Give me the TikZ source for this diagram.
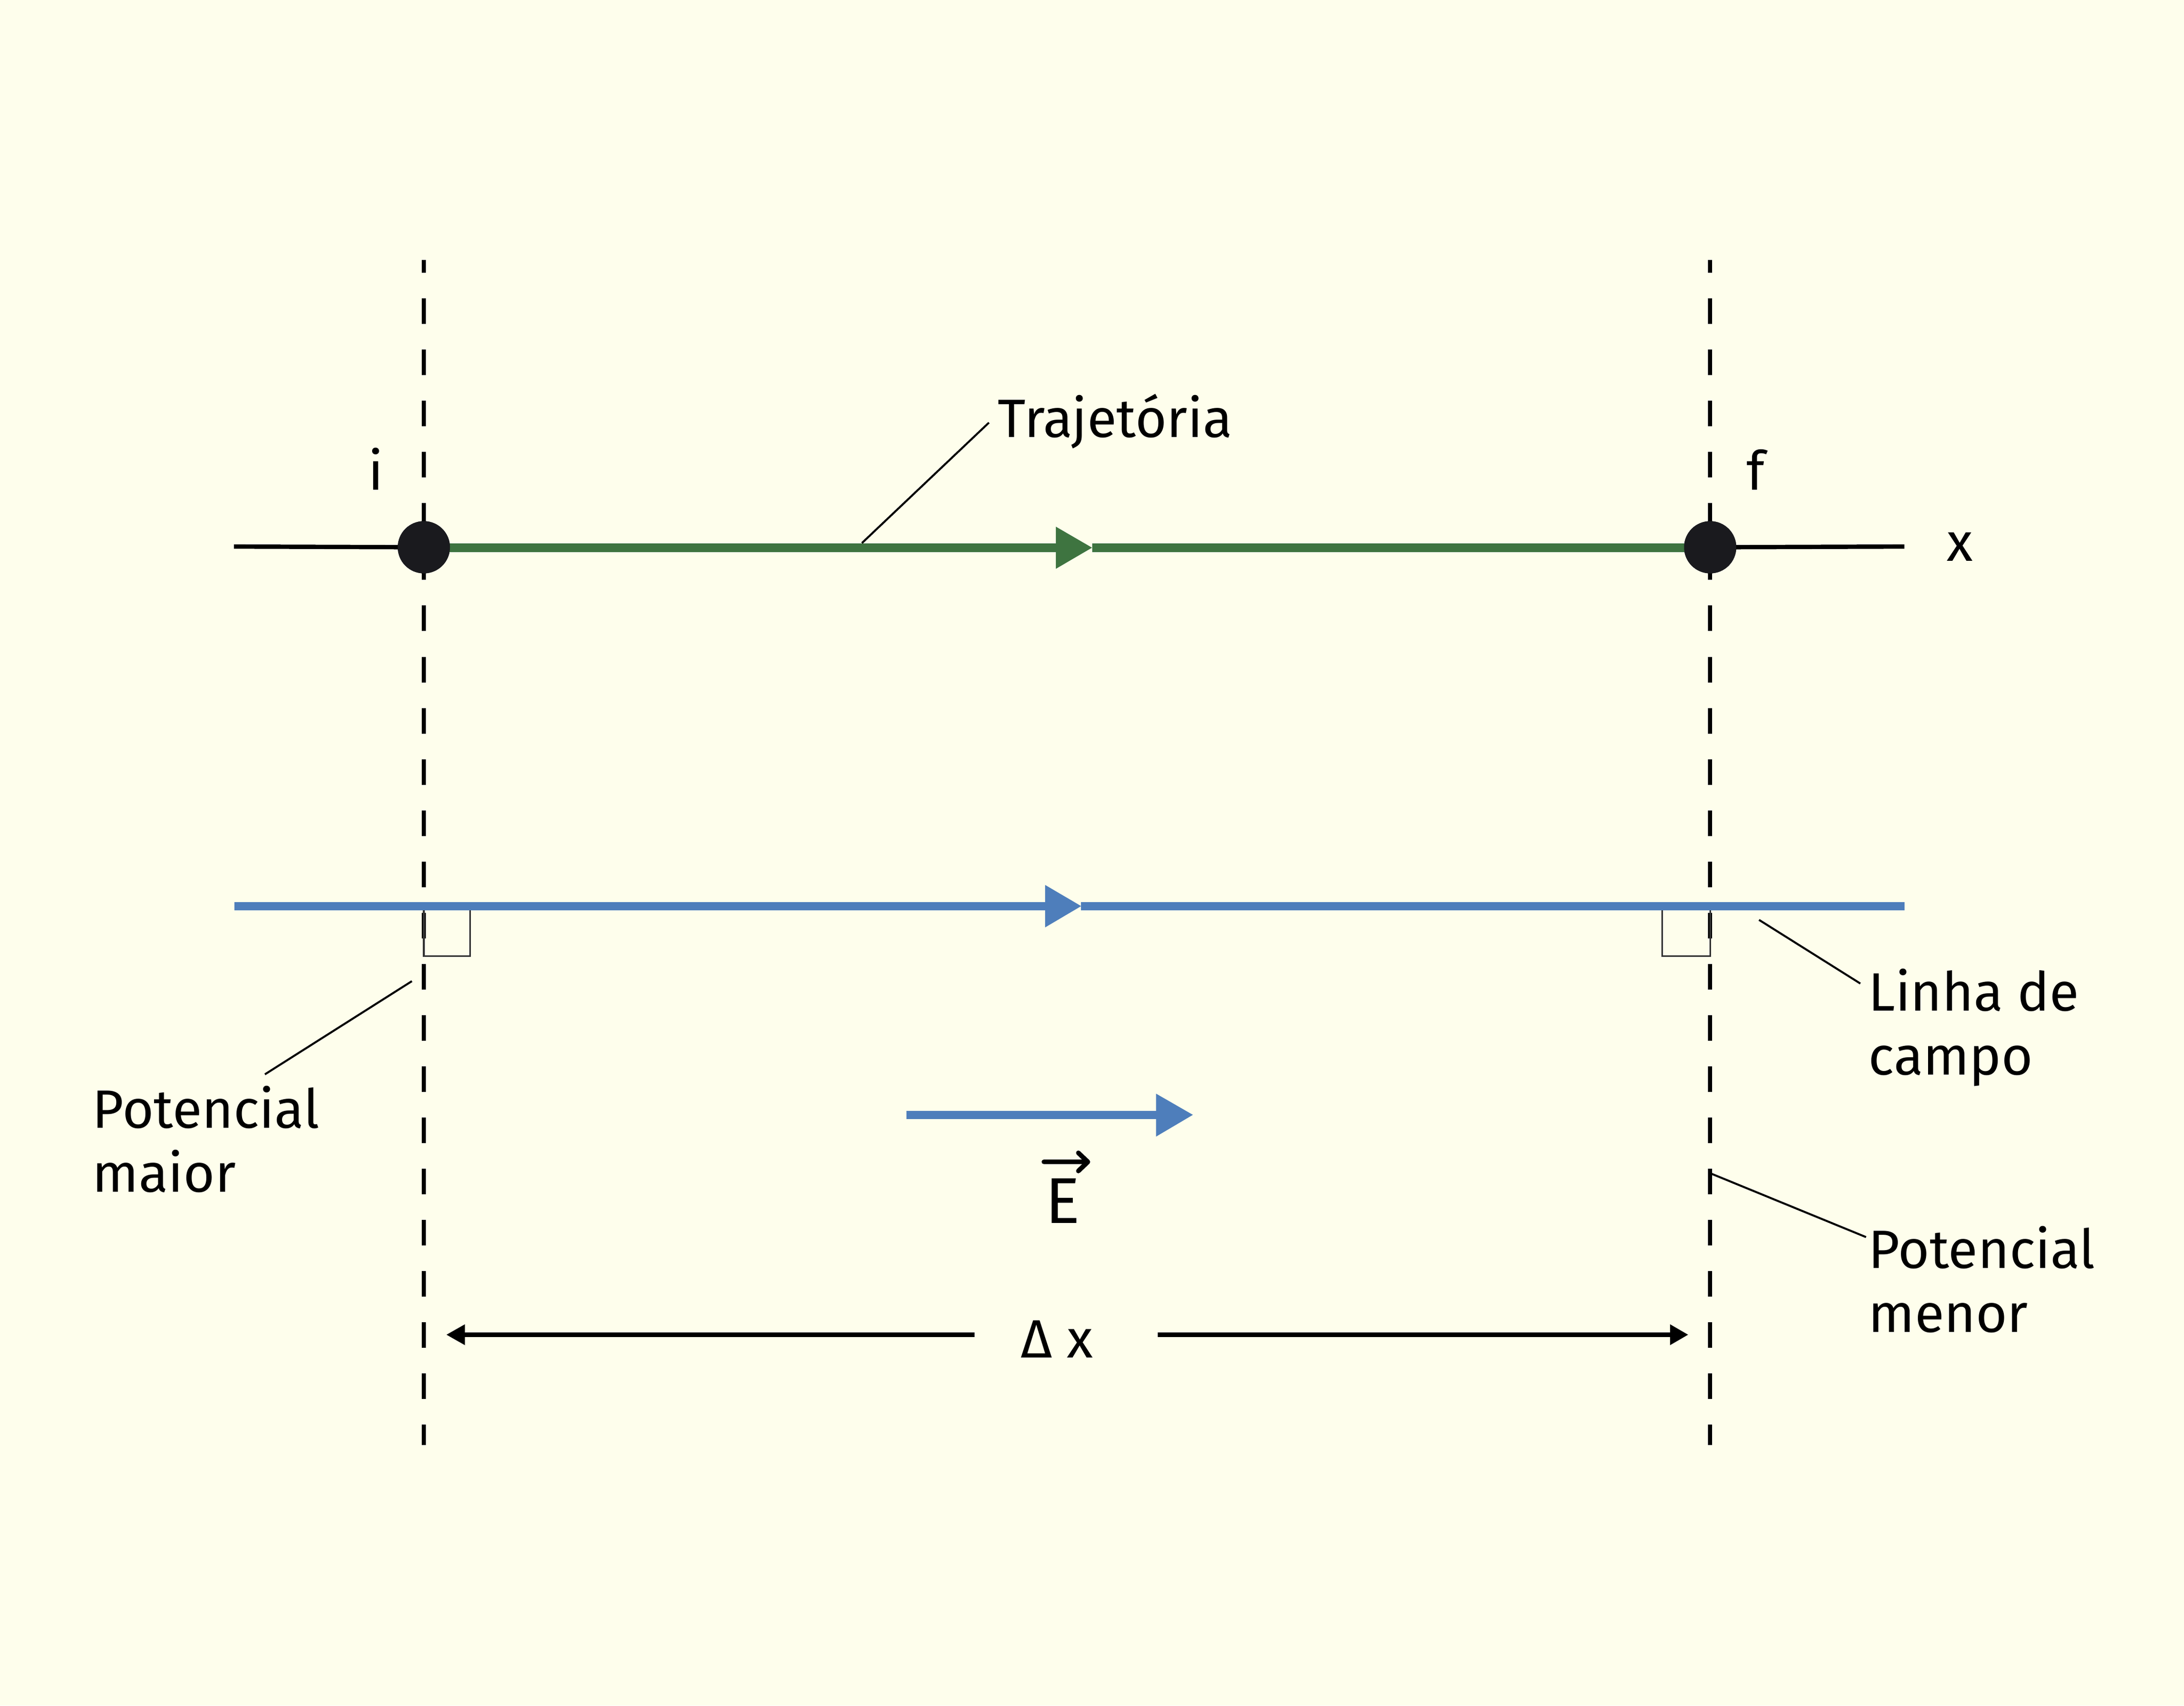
\documentclass[tikz,border=0pt]{standalone}
\usepackage{fontspec}
\setmainfont{Fira Sans}
\definecolor{bg}{RGB}{254,254,236}
\definecolor{trajgreen}{RGB}{62,116,64}
\definecolor{fieldblue}{RGB}{78,126,187}
\definecolor{dotblack}{RGB}{26,26,30}
\definecolor{boxgray}{RGB}{51,51,51}
\begin{document}
\begin{tikzpicture}[x=0.027213cm, y=-0.027213cm,
  txt/.style={font=\fontsize{30}{35.6}\selectfont, inner sep=0pt, outer sep=0pt, text=black},
  bigtxt/.style={font=\fontsize{36}{42}\selectfont, inner sep=0pt, outer sep=0pt, text=black},
  dashedline/.style={line width=2.36pt, black, dash pattern=on 14.23pt off 14.23pt, dash phase=7.11pt},
  axisline/.style={line width=2.4pt, black},
  trajline/.style={line width=4.75pt, trajgreen},
  fieldline/.style={line width=4.64pt, fieldblue},
  leader/.style={line width=1.1pt, black},
  anglebox/.style={line width=1pt, boxgray},
  dimline/.style={line width=2.36pt, black},
  vecarrow/.style={line width=2.6pt, black, line cap=round, line join=round},
  pointdot/.style={circle, fill=dotblack, minimum size=1.02cm, inner sep=0pt, outer sep=0pt}
]
% background and bounding box
\fill[bg] (0,0) rectangle (1568,1224.8);
\useasboundingbox (0,0) rectangle (1568,1224.8);

% coordinates
\coordinate (vLtop) at (304.3,186.7);
\coordinate (vLbot) at (304.3,1037.8);
\coordinate (vRtop) at (1227.8,186.7);
\coordinate (vRbot) at (1227.8,1037.8);
\coordinate (axL) at (168,392.5);
\coordinate (axR) at (1367.2,392.5);
\coordinate (gA) at (758,393.3);
\coordinate (gB) at (784,393.3);
\coordinate (bL) at (168.4,650.7);
\coordinate (bA) at (750.3,650.7);
\coordinate (bB) at (776.2,650.7);
\coordinate (bR) at (1367.3,650.7);
\coordinate (eL) at (650.6,800.6);
\coordinate (eA) at (830,800.6);
\coordinate (dimLs) at (699.7,958.5);
\coordinate (dimLb) at (333.8,958.5);
\coordinate (dimRs) at (831.3,958.5);
\coordinate (dimRb) at (1199,958.5);

% dashed equipotential lines
\draw[dashedline] (vLtop) -- (vLbot);
\draw[dashedline] (vRtop) -- (vRbot);

% right-angle marks
\draw[anglebox] (304.3,650.7) rectangle (337.6,686.6);
\draw[anglebox] (1193.3,650.7) rectangle (1227.8,686.6);

% points i and f
\node[pointdot] (dotI) at (304.3,393) {};
\node[pointdot] (dotF) at (1227.8,393) {};

% x axis
\draw[axisline] (axL) -- (dotI.center);
\draw[axisline] (dotF.center) -- (axR);

% trajectory (green) with mid arrow
\draw[trajline] (dotI.center |- gA) -- (gA);
\draw[trajline] (gB) -- (dotF.center |- gB);
\fill[trajgreen] (758,378.2) -- (784,393.3) -- (758,408.5) -- cycle;
\node[pointdot] at (dotI) {};
\node[pointdot] at (dotF) {};

% field line (blue) with mid arrow
\draw[fieldline] (bL) -- (bA);
\draw[fieldline] (bB) -- (bR);
\fill[fieldblue] (750.3,635.5) -- (776.2,650.7) -- (750.3,666) -- cycle;

% field vector E
\draw[fieldline] (eL) -- (eA);
\fill[fieldblue] (830,785.4) -- (856.4,800.6) -- (830,816.2) -- cycle;
\node[bigtxt, anchor=base] (Elabel) at (763,878.3) {E};
\draw[vecarrow] (749.5,834.4) -- (780.5,834.4);
\draw[vecarrow] (774.2,827.9) -- (781,834.4) -- (774.2,840.9);

% delta x dimension
\node[txt, anchor=base] (dx) at (758.8,975) {Δ x};
\draw[dimline] (dimLs) -- (dimLb);
\fill[black] (333.8,951) -- (320.6,958.5) -- (333.8,966) -- cycle;
\draw[dimline] (dimRs) -- (dimRb);
\fill[black] (1199,951) -- (1211.9,958.5) -- (1199,966) -- cycle;

% point labels
\node[txt, anchor=base] (labI) at (270,352) {i};
\node[txt, anchor=base] (labF) at (1260.5,352) {f};
\node[txt, anchor=base] (labX) at (1407,403) {x};

% callout labels
\node[txt, anchor=base west] (traj) at (716.5,314) {Trajetória};
\node[txt, anchor=base west] (potmaior) at (66.5,810) {\begin{tabular}[t]{@{}l@{}}Potencial\\maior\end{tabular}};
\node[txt, anchor=base west] (linha) at (1341.5,726) {\begin{tabular}[t]{@{}l@{}}Linha de\\campo\end{tabular}};
\node[txt, anchor=base west] (potmenor) at (1341.5,910.6) {\begin{tabular}[t]{@{}l@{}}Potencial\\menor\end{tabular}};

% leader lines
\coordinate (trajA) at (710,303.5);
\coordinate (trajB) at (618.8,390);
\coordinate (maiorA) at (295.7,704.6);
\coordinate (maiorB) at (190.2,771.5);
\coordinate (linhaA) at (1262.9,660.6);
\coordinate (linhaB) at (1335.6,706.3);
\coordinate (menorA) at (1228,842.6);
\coordinate (menorB) at (1339.7,888.4);
\draw[leader] (trajA) -- (trajB);
\draw[leader] (maiorA) -- (maiorB);
\draw[leader] (linhaA) -- (linhaB);
\draw[leader] (menorA) -- (menorB);
\end{tikzpicture}
\end{document}
